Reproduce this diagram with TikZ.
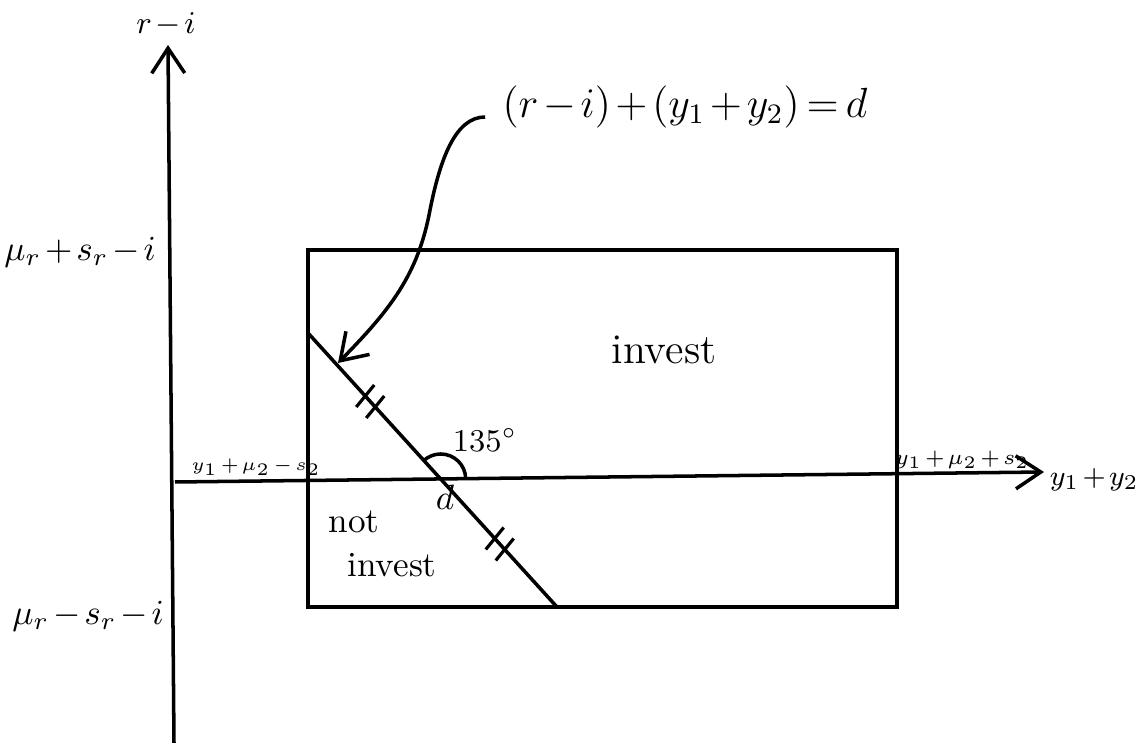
\documentclass[tikz,border=0pt]{standalone}
\usepackage{amssymb}
\usepackage{amsmath}
\usetikzlibrary{angles,quotes,calc,arrows.meta}

\begin{document}
\medmuskip=2mu \thickmuskip=3mu
\begin{tikzpicture}[x=0.01cm, y=-0.01cm, line width=1pt,
    barb/.style={-{Straight Barb[length=2.5mm,width=3.3mm,line width=1pt]}}]
    \useasboundingbox (0,0) rectangle (1138,743);
    \coordinate (Ytop) at (168,45); \coordinate (Ybot) at (174,743);
    \coordinate (Xl) at (175,482); \coordinate (Xr) at (1044,472);
    \coordinate (TL) at (308,250); \coordinate (BR) at (897,607);
    \coordinate (P) at (308,333); \coordinate (Q) at (557,607);
    \coordinate (D) at (intersection of P--Q and Xl--Xr); \coordinate (E) at (897,474);
    \coordinate (tip) at (338,363);

    \draw[barb] (Ybot) -- (Ytop); \draw[barb] (Xl) -- (Xr);
    \draw (TL) rectangle (BR); \draw (P) -- (Q);
    \foreach \t in {0.25,0.77} \foreach \s in {-5,5}
        \draw[line width=0.9pt] ($(P)!\t!(Q)+(\s,1.1*\s)+(-9,11)$) -- ($(P)!\t!(Q)+(\s,1.1*\s)+(9,-11)$);
    \pic [draw, angle radius=2.5mm] {angle = E--D--P};

    \node (ri) at (166,25) {\small $r-i$};
    \node (eq) at (685,107) {\large $(r-i)+(y_1+y_2)=d$};
    \node (mutop) at (80,252) {$\mu_r+s_r-i$};
    \node (mubot) at (88,616) {$\mu_r-s_r-i$};
    \node[anchor=south, inner sep=1pt] (lo) at (256,481) {\fontsize{5}{6}\selectfont $y_1+\mu_2-s_2$};
    \node[anchor=south, inner sep=1pt] (hi) at (962,474) {\fontsize{6.5}{8}\selectfont $y_1+\mu_2+s_2$};
    \node[anchor=west, inner sep=0pt] (sum) at ($(Xr)+(4,8)$) {\footnotesize $y_1+y_2$};
    \node (ang) at (485,440) {\small $135^\circ$};
    \node (dl) at (445,497) {$d$};
    \node (inv) at (664,350) {\large invest};
    \node (no) at (354,522) {not};
    \node (noinv) at (392,565) {invest};
    \draw[barb] ($(eq.west)+(-4,10)$) .. controls (455,117) and (440,160) .. (430,210)
        .. controls (418,275) and (390,310) .. (tip);
\end{tikzpicture}
\end{document}
